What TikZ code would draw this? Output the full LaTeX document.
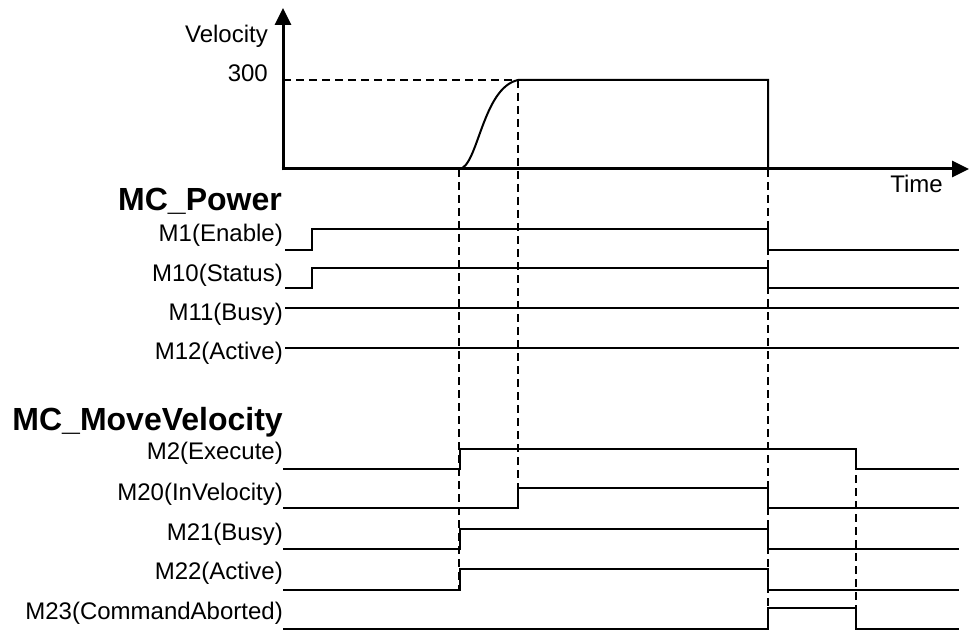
\documentclass[tikz,border=0pt]{standalone}
\usepackage{fontspec}
\setmainfont{Liberation Sans}
\usetikzlibrary{arrows.meta}

\begin{document}
\begin{tikzpicture}[
  x=1pt,y=-1pt,
  lbl/.style={anchor=east,inner sep=0pt,font=\fontsize{24}{28}\selectfont},
  axlbl/.style={anchor=base east,inner sep=0pt,font=\fontsize{24}{28}\selectfont},
  head/.style={anchor=base east,inner sep=0pt,font=\fontsize{32}{36}\selectfont\bfseries},
  axis/.style={line width=3pt,-{Triangle[length=17pt,width=16pt]}},
  sig/.style={line width=2pt,line join=miter},
  guide/.style={line width=1.7pt,dash pattern=on 8pt off 5pt}
]
\useasboundingbox (0,0) rectangle (969,631);

% velocity profile
\node[axlbl] (vlabel) at (268,43) {Velocity};
\node[axlbl] (vmax) at (268,82) {300};
\node[axlbl] (tlabel) at (943,193) {Time};
\draw[axis] (283,170.5) -- (283,8);
\draw[axis] (281.5,169) -- (969,169);
\draw[sig] (459,169) .. controls (478,168) and (482,88) .. (518,80) -- (768,80) -- (768,169);

% guides
\draw[guide] (283,80) -- (518,80);
\draw[guide] (518,80) -- (518,508);
\draw[guide] (459,169) -- (459,590);
\draw[guide] (768,169) -- (768,629);
\draw[guide] (856,449) -- (856,629);

% MC_Power
\node[head] (power) at (282,211) {MC\_Power};
\node[lbl] (enable) at (283,235) {M1(Enable)};
\node[lbl] (status) at (283,275) {M10(Status)};
\node[lbl] (pbusy) at (283,314) {M11(Busy)};
\node[lbl] (pactive) at (283,353) {M12(Active)};
\draw[sig] (285,250) -- (312,250) -- (312,229) -- (768,229) -- (768,250) -- (959,250);
\draw[sig] (285,288) -- (312,288) -- (312,268) -- (768,268) -- (768,288) -- (959,288);
\draw[sig] (285,308) -- (959,308);
\draw[sig] (285,348) -- (959,348);

% MC_MoveVelocity
\node[head] (movevel) at (283,430) {MC\_MoveVelocity};
\node[lbl] (execute) at (283,453) {M2(Execute)};
\node[lbl] (invel) at (283,494) {M20(InVelocity)};
\node[lbl] (busy) at (283,534) {M21(Busy)};
\node[lbl] (active) at (283,573) {M22(Active)};
\node[lbl] (aborted) at (283,613) {M23(CommandAborted)};
\draw[sig] (283,469) -- (460,469) -- (460,449) -- (856,449) -- (856,469) -- (959,469);
\draw[sig] (283,508) -- (518,508) -- (518,488) -- (768,488) -- (768,508) -- (959,508);
\draw[sig] (283,549) -- (460,549) -- (460,529) -- (768,529) -- (768,549) -- (959,549);
\draw[sig] (283,590) -- (460,590) -- (460,569) -- (768,569) -- (768,590) -- (959,590);
\draw[sig] (283,629) -- (768,629) -- (768,608) -- (856,608) -- (856,629) -- (959,629);
\end{tikzpicture}
\end{document}
